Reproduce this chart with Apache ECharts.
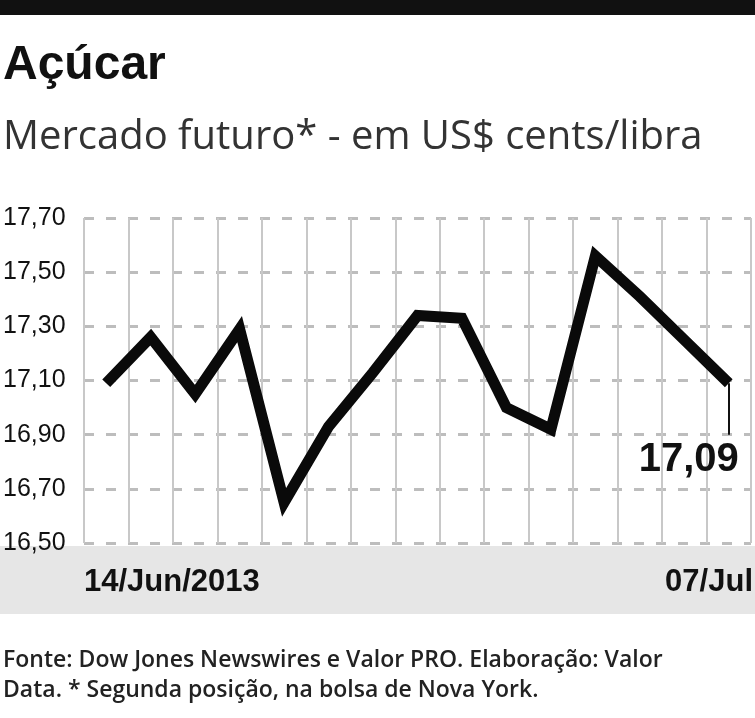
<!DOCTYPE html>
<html>
<head>
<meta charset="UTF-8">
<script src="https://cdn.jsdelivr.net/npm/echarts@6/dist/echarts.min.js"></script>
<style>html,body{margin:0;padding:0;background:#fff}#c{width:755px;height:718px}</style>
</head>
<body>
<div id="c"></div>
<script>
var days = ['d1','d2','d3','d4','d5','d6','d7','d8','d9','d10','d11','d12','d13','d14','d15'];
var prices = [17.09, 17.26, 17.05, 17.29, 16.65, 16.93, 17.13, 17.34, 17.33, 17.00, 16.92, 17.56, 17.41, 17.25, 17.09];
var firstLabel = '14/Jun/2013';
var lastLabel = '07/Jul';
var lastValue = '17,09';

var chart = echarts.init(document.getElementById('c'));
var last = prices.length - 1;
chart.setOption({
    animation: false,
    grid: { left: 82, right: 4, top: 218, bottom: 175 },
    graphic: [
        { type: 'rect', shape: { x: 0, y: 0, width: 755, height: 15 }, style: { fill: '#111' } },
        { type: 'text', left: 3, top: 42, style: { text: 'Açúcar', font: 'bold 48px "Liberation Sans"', fill: '#111' } },
        { type: 'text', left: 3, top: 118, style: { text: 'Mercado futuro* - em US$ cents/libra', font: '40px "Open Sans"', fill: '#333' } },
        { type: 'rect', z: -1, shape: { x: 0, y: 546, width: 755, height: 68 }, style: { fill: '#e6e6e6' } },
        { type: 'text', left: 84, top: 567, style: { text: firstLabel, font: 'bold 31px "Liberation Sans"', fill: '#111' } },
        { type: 'text', right: 2, top: 567, style: { text: lastLabel, font: 'bold 31px "Liberation Sans"', fill: '#111' } },
        { type: 'text', left: 3, top: 645, style: { text: 'Fonte: Dow Jones Newswires e Valor PRO. Elaboração: Valor\nData. * Segunda posição, na bolsa de Nova York.', font: '600 23px "Open Sans"', lineHeight: 30, fill: '#222' } }
    ],
    xAxis: {
        type: 'category', data: days, boundaryGap: true,
        axisLine: { show: false }, axisTick: { show: false }, axisLabel: { show: false },
        splitLine: { show: true, interval: 0, lineStyle: { color: '#c8c8c8', width: 2 } }
    },
    yAxis: {
        type: 'value', min: 16.5, max: 17.7, interval: 0.2,
        axisLine: { show: false }, axisTick: { show: false },
        axisLabel: {
            margin: 81, align: 'left', color: '#111',
            fontFamily: '"Liberation Sans"', fontSize: 25,
            formatter: function (v) { return v.toFixed(2).replace('.', ','); }
        },
        splitLine: { lineStyle: { color: '#bdbdbd', width: 3, type: [10, 12] } }
    },
    series: [{
        type: 'line', data: prices, symbol: 'none',
        lineStyle: { color: '#0a0a0a', width: 11, join: 'miter' },
        markLine: {
            silent: true, symbol: ['none', 'none'], label: { show: false },
            lineStyle: { color: '#111', width: 2, type: 'solid' },
            data: [[{ coord: [last, prices[last]] }, { coord: [last, 16.9] }]]
        },
        markPoint: {
            symbol: 'rect', symbolSize: 1, itemStyle: { color: 'transparent' },
            data: [{ coord: [last, 16.9], label: { show: true, formatter: lastValue, position: 'bottom', offset: [-40, 0],
                fontSize: 40, fontWeight: 'bold', color: '#111', fontFamily: '"Liberation Sans"' } }]
        }
    }]
});
</script>
</body>
</html>
